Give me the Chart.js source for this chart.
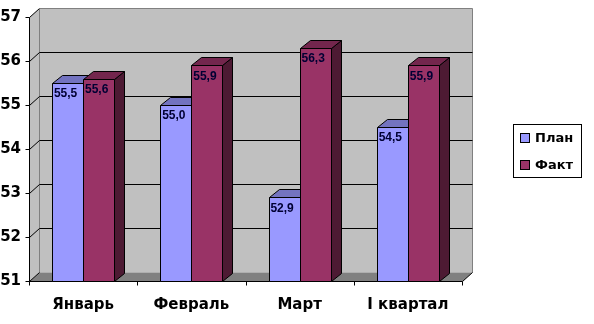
<!DOCTYPE html>
<html>
<head>
<meta charset="utf-8">
<script src="https://cdn.jsdelivr.net/npm/chart.js@4.4.0/dist/chart.umd.min.js"></script>
<style>
    html, body { margin: 0; padding: 0; background: #fff; }
</style>
</head>
<body>
<canvas id="chart" width="594" height="324"></canvas>
<script>
let months = ['Январь', 'Февраль', 'Март', 'I квартал']
let planValues = [55.5, 55.0, 52.9, 54.5]
let factValues = [55.6, 55.9, 56.3, 55.9]
let yTicks = [51, 52, 53, 54, 55, 56, 57]

let fontFamily = '"DejaVu Sans", Verdana, sans-serif'

// depth of the walls and of the bars (fake 3d)
let wallDX = 10, wallDY = -9
let barDX = 10, barDY = -8

function poly(ctx, pts, fill, stroke) {
    ctx.beginPath()
    ctx.moveTo(pts[0][0], pts[0][1])
    for (let i = 1; i < pts.length; i++) ctx.lineTo(pts[i][0], pts[i][1])
    ctx.closePath()
    if (fill) { ctx.fillStyle = fill; ctx.fill() }
    if (stroke) { ctx.strokeStyle = stroke; ctx.lineWidth = 1; ctx.stroke() }
}

function line(ctx, x1, y1, x2, y2, color) {
    ctx.beginPath()
    ctx.moveTo(x1, y1)
    ctx.lineTo(x2, y2)
    ctx.strokeStyle = color
    ctx.lineWidth = 1
    ctx.stroke()
}

const boxPlugin = {
    id: 'box3d',
    beforeDatasetsDraw(chart) {
        let ctx = chart.ctx
        let a = chart.chartArea
        let y = chart.scales.y
        let L = Math.round(a.left) + 0.5, R = Math.round(a.right) + 0.5
        let T = Math.round(a.top) + 0.5, B = Math.round(a.bottom) + 0.5
        ctx.save()
        // left wall + back wall
        poly(ctx, [[L, T], [L + wallDX, T + wallDY], [L + wallDX, B + wallDY], [L, B]], '#c0c0c0', null)
        poly(ctx, [[L + wallDX, T + wallDY], [R + wallDX, T + wallDY], [R + wallDX, B + wallDY], [L + wallDX, B + wallDY]], '#c0c0c0', null)
        line(ctx, L + wallDX, T + wallDY, L + wallDX, B + wallDY, '#808080')
        line(ctx, R + wallDX, T + wallDY, R + wallDX, B + wallDY, '#808080')
        // gridlines
        yTicks.forEach(v => {
            let yy = Math.round(y.getPixelForValue(v)) + 0.5
            if (v === yTicks[0]) return
            let col = v === yTicks[yTicks.length - 1] ? '#808080' : '#000'
            line(ctx, L, yy, L + wallDX, yy + wallDY, '#000')
            line(ctx, L + wallDX, yy + wallDY, R + wallDX, yy + wallDY, col)
            line(ctx, L - 4, yy, L, yy, '#000')
        })
        line(ctx, L - 4, B, L, B, '#000')
        // floor
        poly(ctx, [[L, B], [R, B], [R + wallDX, B + wallDY], [L + wallDX, B + wallDY]], '#808080', null)
        line(ctx, L, B, L + wallDX, B + wallDY, '#000')
        line(ctx, R, B, R + wallDX, B + wallDY, '#000')
        // axes
        line(ctx, L, T, L, B, '#000')
        line(ctx, L, B, R, B, '#000')
        let step = (a.right - a.left) / months.length
        for (let i = 0; i <= months.length; i++) {
            let xx = Math.round(a.left + i * step) + 0.5
            line(ctx, xx, B, xx, B + 4, '#000')
        }
        ctx.restore()
    },
    afterDatasetsDraw(chart) {
        let ctx = chart.ctx
        let y = chart.scales.y
        ctx.save()
        let metas = chart.data.datasets.map((d, i) => chart.getDatasetMeta(i))
        let floor = Math.round(y.getPixelForValue(yTicks[0])) + 0.5
        for (let i = 0; i < months.length; i++) {
            metas.forEach((meta, di) => {
                let ds = chart.data.datasets[di]
                let el = meta.data[i]
                let l = Math.round(el.x - el.width / 2) + 0.5
                let r = Math.round(el.x + el.width / 2) + 0.5
                let t = Math.round(el.y) + 0.5
                let b = floor
                poly(ctx, [[r, t], [r + barDX, t + barDY], [r + barDX, b + barDY], [r, b]], ds.sideColor, '#000')
                poly(ctx, [[l, t], [l + barDX, t + barDY], [r + barDX, t + barDY], [r, t]], ds.topColor, '#000')
                poly(ctx, [[l, t], [r, t], [r, b], [l, b]], ds.frontColor, '#000')
            })
        }
        // value labels
        ctx.font = 'bold 12px "Liberation Sans", Arial, sans-serif'
        ctx.fillStyle = '#000033'
        ctx.textAlign = 'center'
        ctx.textBaseline = 'middle'
        metas.forEach((meta, di) => {
            let vals = chart.data.datasets[di].data
            meta.data.forEach((el, i) => {
                ctx.fillText(vals[i].toFixed(1).replace('.', ','), el.x - 2, el.y + 11)
            })
        })
        ctx.restore()
    },
    afterDraw(chart) {
        let ctx = chart.ctx
        ctx.save()
        ctx.fillStyle = '#fff'
        ctx.fillRect(513.5, 124.5, 68, 53)
        ctx.strokeStyle = '#000'
        ctx.lineWidth = 1
        ctx.strokeRect(513.5, 124.5, 68, 53)
        ctx.font = 'bold 13px ' + fontFamily
        ctx.textBaseline = 'middle'
        ctx.textAlign = 'left'
        chart.data.datasets.forEach((ds, i) => {
            let yy = 133 + i * 27
            ctx.fillStyle = ds.frontColor
            ctx.fillRect(520.5, yy + 0.5, 9, 9)
            ctx.strokeRect(520.5, yy + 0.5, 9, 9)
            ctx.fillStyle = '#000'
            ctx.fillText(ds.label, 535, yy + 5.5)
        })
        ctx.restore()
    }
}

let ctx = document.getElementById('chart').getContext('2d')
let myChart = new Chart(ctx, {
    type: 'bar',
    data: {
        labels: months,
        datasets: [
            {
                label: 'План',
                data: planValues,
                backgroundColor: 'rgba(0,0,0,0)',
                borderWidth: 0,
                frontColor: '#9999ff',
                topColor: '#7373c0',
                sideColor: '#4d4d80'
            },
            {
                label: 'Факт',
                data: factValues,
                backgroundColor: 'rgba(0,0,0,0)',
                borderWidth: 0,
                frontColor: '#993366',
                topColor: '#73264d',
                sideColor: '#4d1a33'
            }
        ]
    },
    options: {
        responsive: false,
        animation: false,
        layout: { padding: { top: 13, right: 132, left: 0, bottom: 0 } },
        datasets: { bar: { categoryPercentage: 0.575, barPercentage: 1 } },
        plugins: {
            legend: { display: false },
            tooltip: { enabled: false }
        },
        scales: {
            x: {
                grid: { display: false, drawTicks: false },
                border: { display: false },
                ticks: { color: '#000', padding: 15, font: { family: fontFamily, size: 15, weight: 'bold' } },
                afterFit: function (s) { s.height = 43 }
            },
            y: {
                min: 51,
                max: 57,
                grid: { display: false, drawTicks: false },
                border: { display: false },
                ticks: { color: '#000', padding: 8, font: { family: fontFamily, size: 15, weight: 'bold' } },
                afterBuildTicks: function (s) { s.ticks = yTicks.map(v => ({ value: v })) },
                afterFit: function (s) { s.width = 29 }
            }
        }
    },
    plugins: [boxPlugin]
})
</script>
</body>
</html>
